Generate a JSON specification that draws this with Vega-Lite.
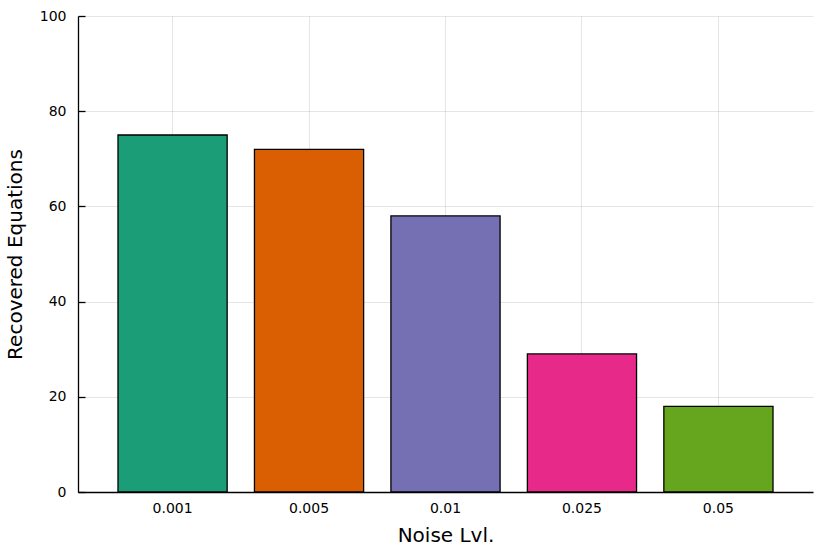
{
  "$schema": "https://vega.github.io/schema/vega-lite/v6.json",
  "width": 735,
  "height": 476,
  "autosize": {"type": "none"},
  "padding": {"left": 78, "top": 16, "right": 17, "bottom": 62},
  "background": "white",
  "config": {
    "view": {"stroke": null},
    "font": "DejaVu Sans",
    "axis": {"gridColor": "#000000", "gridOpacity": 0.1, "gridWidth": 1, "domainColor": "#000000", "domainWidth": 1.3, "labelColor": "#000000", "titleColor": "#000000", "labelFont": "DejaVu Sans", "titleFont": "DejaVu Sans", "titleFontWeight": "normal", "labelFontSize": 14, "titleFontSize": 20}
  },
  "data": {
    "values": [
      {"noise": "0.001", "recovered": 75},
      {"noise": "0.005", "recovered": 72},
      {"noise": "0.01", "recovered": 58},
      {"noise": "0.025", "recovered": 29},
      {"noise": "0.05", "recovered": 18}
    ]
  },
  "mark": {"type": "bar", "stroke": "#000000", "strokeWidth": 1.3, "opacity": 1},
  "encoding": {
    "x": {
      "field": "noise", "type": "nominal", "sort": null,
      "scale": {"paddingInner": 0.2, "paddingOuter": 0.293},
      "axis": {"title": "Noise Lvl.", "labelAngle": 0, "ticks": false, "labelPadding": 9, "titlePadding": 10, "grid": true, "gridOpacity": 0.1, "bandPosition": 0.5}
    },
    "y": {
      "field": "recovered", "type": "quantitative",
      "scale": {"domain": [0, 100], "nice": false},
      "axis": {"title": "Recovered Equations", "values": [0, 20, 40, 60, 80, 100], "tickSize": -7, "tickColor": "#000000", "tickWidth": 1.3, "labelPadding": 19, "titlePadding": 14}
    },
    "color": {
      "field": "noise", "type": "nominal", "sort": null,
      "scale": {"range": ["#1b9e77", "#d95f02", "#7570b3", "#e7298a", "#66a61e"]},
      "legend": null
    }
  }
}
